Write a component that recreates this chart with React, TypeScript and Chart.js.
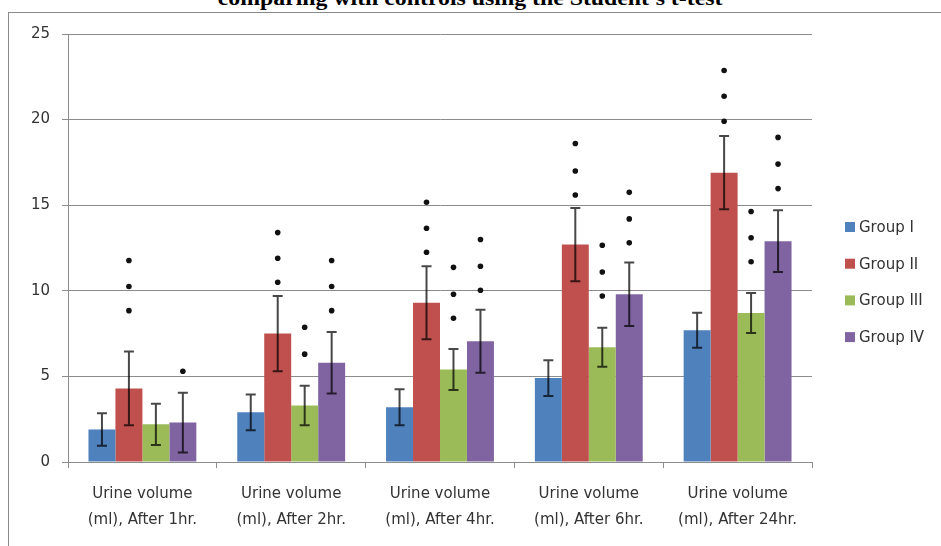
import React, { useEffect, useRef } from "react";
import { Chart, registerables } from "chart.js";

Chart.register(...registerables);

const TITLE = "comparing with controls using the Student's t-test";

const categories: string[][] = [
  ["Urine volume", "(ml), After 1hr."],
  ["Urine volume", "(ml), After 2hr."],
  ["Urine volume", "(ml), After 4hr."],
  ["Urine volume", "(ml), After 6hr."],
  ["Urine volume", "(ml), After 24hr."],
];

const seriesNames = ["Group I", "Group II", "Group III", "Group IV"];
const seriesColors = ["#4F81BD", "#C0504D", "#9BBB59", "#8064A2"];

const group1Means = [1.9, 2.9, 3.2, 4.9, 7.7];
const group2Means = [4.3, 7.5, 9.3, 12.7, 16.9];
const group3Means = [2.2, 3.3, 5.4, 6.7, 8.7];
const group4Means = [2.3, 5.8, 7.05, 9.8, 12.9];

const group1Err = [0.95, 1.05, 1.05, 1.05, 1.02];
const group2Err = [2.15, 2.2, 2.13, 2.14, 2.14];
const group3Err = [1.2, 1.15, 1.2, 1.14, 1.17];
const group4Err = [1.75, 1.8, 1.84, 1.85, 1.8];

// significance marks (value positions of each dot)
const group1Stars: number[][] = [[], [], [], [], []];
const group2Stars: number[][] = [
  [8.84, 10.25, 11.77],
  [10.5, 11.9, 13.4],
  [12.25, 13.65, 15.17],
  [15.6, 17.0, 18.6],
  [19.9, 21.36, 22.87],
];
const group3Stars: number[][] = [
  [],
  [6.3, 7.87],
  [8.4, 9.8, 11.37],
  [9.7, 11.1, 12.66],
  [11.7, 13.1, 14.63],
];
const group4Stars: number[][] = [
  [5.3],
  [8.84, 10.25, 11.77],
  [10.03, 11.43, 13.0],
  [12.8, 14.2, 15.75],
  [15.97, 17.4, 18.96],
];

const yTicks = { min: 0, max: 25, step: 5 };

const allMeans = [group1Means, group2Means, group3Means, group4Means];
const allErr = [group1Err, group2Err, group3Err, group4Err];
const allStars = [group1Stars, group2Stars, group3Stars, group4Stars];

const FONT = "'DejaVu Sans', sans-serif";
const GRID = "#8c8c8c";

const extrasPlugin = {
  id: "extras",
  afterDatasetsDraw(chart: any) {
    const ctx = chart.ctx;
    const ys = chart.scales.y;
    ctx.save();
    allMeans.forEach((means, di) => {
      const meta = chart.getDatasetMeta(di);
      means.forEach((m, j) => {
        const bar = meta.data[j];
        if (!bar) return;
        const x = bar.x;
        const e = allErr[di][j];
        const yt = ys.getPixelForValue(m + e);
        const yb = ys.getPixelForValue(m - e);
        ctx.strokeStyle = "rgba(0,0,0,0.72)";
        ctx.lineWidth = 2;
        ctx.beginPath();
        ctx.moveTo(x, yt);
        ctx.lineTo(x, yb);
        ctx.moveTo(x - 5, yt);
        ctx.lineTo(x + 5, yt);
        ctx.moveTo(x - 5, yb);
        ctx.lineTo(x + 5, yb);
        ctx.stroke();
        ctx.fillStyle = "#111";
        allStars[di][j].forEach((s) => {
          const ys2 = ys.getPixelForValue(s);
          ctx.beginPath();
          ctx.arc(x, ys2, 2.8, 0, Math.PI * 2);
          ctx.fill();
        });
      });
    });
    ctx.restore();
  },
  afterDraw(chart: any) {
    const ctx = chart.ctx;
    ctx.save();
    ctx.font = `15px ${FONT}`;
    ctx.textBaseline = "middle";
    ctx.textAlign = "left";
    seriesNames.forEach((name, i) => {
      const cy = 227 + i * 36.7;
      ctx.fillStyle = seriesColors[i];
      ctx.fillRect(845, cy - 5, 10, 10);
      ctx.fillStyle = "#333";
      ctx.fillText(name, 859, cy + 1);
    });
    ctx.restore();
  },
};

function App() {
  const ref = useRef<HTMLCanvasElement | null>(null);
  useEffect(() => {
    if (!ref.current) return;
    const chart = new Chart(ref.current, {
      type: "bar",
      data: {
        labels: categories,
        datasets: allMeans.map((d, i) => ({
          label: seriesNames[i],
          data: d,
          backgroundColor: seriesColors[i],
          borderWidth: 0,
          categoryPercentage: 0.725,
          barPercentage: 1.0,
        })),
      },
      options: {
        animation: false,
        responsive: false,
        maintainAspectRatio: false,
        layout: { padding: { left: 8, top: 34, right: 129, bottom: 0 } },
        plugins: {
          legend: { display: false },
          tooltip: { enabled: false },
          title: { display: false },
        },
        scales: {
          x: {
            grid: {
              display: true,
              drawOnChartArea: false,
              drawTicks: true,
              tickLength: 6,
              offset: true,
              color: GRID,
            },
            border: { display: true, color: GRID, width: 1 },
            ticks: {
              color: "#333",
              font: { family: FONT, size: 15, lineHeight: 1.75 },
              padding: 13,
              maxRotation: 0,
              autoSkip: false,
            },
            afterFit(scale: any) {
              scale.height = 84;
            },
          },
          y: {
            min: yTicks.min,
            max: yTicks.max,
            ticks: {
              stepSize: yTicks.step,
              color: "#333",
              font: { family: FONT, size: 15 },
              padding: 12,
            },
            grid: { color: GRID, tickLength: 6, drawTicks: true },
            border: { display: true, color: GRID, width: 1 },
            afterFit(scale: any) {
              scale.width = 60;
            },
          },
        },
      },
      plugins: [extrasPlugin],
    });
    return () => chart.destroy();
  }, []);

  return (
    <div
      style={{
        position: "absolute",
        left: 0,
        top: 0,
        width: 941,
        height: 546,
        overflow: "hidden",
        background: "#fff",
      }}
    >
      <div
        style={{
          position: "absolute",
          left: 0,
          top: -12,
          width: 941,
          textAlign: "center",
          fontFamily: "'Liberation Serif', serif",
          fontWeight: "bold",
          fontSize: 20,
          lineHeight: "20px",
          whiteSpace: "nowrap",
        }}
      >
        <span style={{ display: "inline-block", transform: "scaleX(1.19)" }}>{TITLE}</span>
      </div>
      <div
        style={{
          position: "absolute",
          left: 8,
          top: 12,
          width: 1000,
          height: 1000,
          border: "1px solid #8a8a8a",
        }}
      />
      <canvas
        ref={ref}
        width={941}
        height={546}
        style={{ position: "absolute", left: 0, top: 0, width: 941, height: 546 }}
      />
    </div>
  );
}

export default App;
